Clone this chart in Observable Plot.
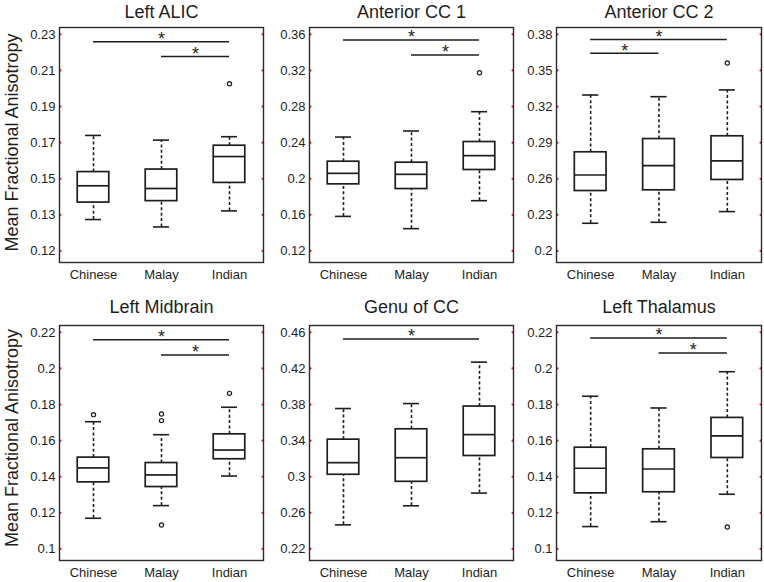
<!DOCTYPE html>
<html>
<head>
<meta charset="utf-8">
<script src="https://cdn.jsdelivr.net/npm/d3@7"></script>
<script src="https://cdn.jsdelivr.net/npm/@observablehq/plot@0.6"></script>
<style>
  html, body { margin: 0; padding: 0; background: #fff; }
  #chart { position: relative; width: 764px; height: 582px; overflow: hidden; background: #fff; }
  #chart svg { position: absolute; overflow: visible; }
</style>
</head>
<body>
<div id="chart"></div>
<script>
// ---------- data ----------
const groups = ["Chinese", "Malay", "Indian"];
const titles = ["Left ALIC", "Anterior CC 1", "Anterior CC 2", "Left Midbrain", "Genu of CC", "Left Thalamus"];
const yAxisTitle = "Mean Fractional Anisotropy";

// tick positions and printed labels per panel
const tickValues = [
  [0.11, 0.13, 0.15, 0.17, 0.19, 0.21, 0.23],
  [0.12, 0.16, 0.20, 0.24, 0.28, 0.32, 0.36],
  [0.20, 0.23, 0.26, 0.29, 0.32, 0.35, 0.38],
  [0.10, 0.12, 0.14, 0.16, 0.18, 0.20, 0.22],
  [0.22, 0.26, 0.30, 0.34, 0.38, 0.42, 0.46],
  [0.10, 0.12, 0.14, 0.16, 0.18, 0.20, 0.22]
];
const tickLabels = [
  ["0.12", "0.13", "0.15", "0.17", "0.19", "0.21", "0.23"],
  ["0.12", "0.16", "0.2", "0.24", "0.28", "0.32", "0.36"],
  ["0.2", "0.23", "0.26", "0.29", "0.32", "0.35", "0.38"],
  ["0.1", "0.12", "0.14", "0.16", "0.18", "0.2", "0.22"],
  ["0.22", "0.26", "0.3", "0.34", "0.38", "0.42", "0.46"],
  ["0.1", "0.12", "0.14", "0.16", "0.18", "0.2", "0.22"]
];

// box statistics per panel: [Chinese, Malay, Indian]
const whiskerLow = [
  [0.1274, 0.1233, 0.1322],
  [0.1583, 0.1447, 0.1757],
  [0.2230, 0.2238, 0.2327],
  [0.1170, 0.1240, 0.1404],
  [0.2467, 0.2678, 0.2819],
  [0.1124, 0.1151, 0.1303]
];
const q1 = [
  [0.1368, 0.1376, 0.1477],
  [0.1938, 0.1886, 0.2097],
  [0.2498, 0.2504, 0.2590],
  [0.1369, 0.1343, 0.1497],
  [0.3022, 0.2944, 0.3230],
  [0.1308, 0.1314, 0.1504]
];
const median = [
  [0.1461, 0.1446, 0.1623],
  [0.2060, 0.2049, 0.2256],
  [0.2631, 0.2709, 0.2748],
  [0.1449, 0.1410, 0.1548],
  [0.3156, 0.3211, 0.3467],
  [0.1447, 0.1443, 0.1626]
];
const q3 = [
  [0.1537, 0.1551, 0.1683],
  [0.2189, 0.2178, 0.2407],
  [0.2820, 0.2930, 0.2953],
  [0.1506, 0.1476, 0.1635],
  [0.3411, 0.3526, 0.3778],
  [0.1561, 0.1552, 0.1726]
];
const whiskerHigh = [
  [0.1740, 0.1714, 0.1733],
  [0.2462, 0.2529, 0.2743],
  [0.3296, 0.3282, 0.3338],
  [0.1705, 0.1633, 0.1785],
  [0.3756, 0.3811, 0.4270],
  [0.1846, 0.1781, 0.1982]
];

// outliers
const outlierPanel = [0, 1, 2, 3, 3, 3, 3, 3, 5];
const outlierGroup = ["Indian", "Indian", "Indian", "Chinese", "Malay", "Malay", "Malay", "Indian", "Indian"];
const outlierValue = [0.2026, 0.3175, 0.3562, 0.1744, 0.1748, 0.1711, 0.1133, 0.1862, 0.1122];

// significance bars
const sigPanel = [0, 0, 1, 1, 2, 2, 3, 3, 4, 5, 5];
const sigFrom = ["Chinese", "Malay", "Chinese", "Malay", "Chinese", "Chinese", "Chinese", "Malay", "Chinese", "Chinese", "Malay"];
const sigTo = ["Indian", "Indian", "Indian", "Indian", "Indian", "Malay", "Indian", "Indian", "Indian", "Indian", "Indian"];
const sigY = [0.2259, 0.2178, 0.3537, 0.3371, 0.3758, 0.3642, 0.2159, 0.2074, 0.4526, 0.2169, 0.2086];

// ---------- layout ----------
const colX0 = [59, 309, 556], colX1 = [263, 513, 761];
const rowY0 = [27, 325], rowY1 = [262, 560];
const titleDy = [-15.5, -18];
const mL = 59, mT = 27, mR = 4, mB = 26;
const font = "'Liberation Sans', Arial, Helvetica, sans-serif";
const ink = "#1e1e1e";

const chart = document.getElementById("chart");
const gi = g => groups.indexOf(g) + 0.5;

for (let p = 0; p < 6; p++) {
  const col = p % 3, row = Math.floor(p / 3);
  const fw = colX1[col] - colX0[col], fh = rowY1[row] - rowY0[row];
  const tv = tickValues[p];
  const step = (tv[tv.length - 1] - tv[0]) / (tv.length - 1);
  const yDomain = [tv[0] - 0.32 * step, tv[tv.length - 1] + 0.19 * step];
  const labelMap = new Map(tv.map((v, i) => [v, tickLabels[p][i]]));

  const boxes = groups.map((g, i) => ({
    x: i + 0.5, lo: whiskerLow[p][i], q1: q1[p][i], med: median[p][i], q3: q3[p][i], hi: whiskerHigh[p][i]
  }));
  const outs = outlierValue.map((v, i) => ({p: outlierPanel[i], x: gi(outlierGroup[i]), y: v})).filter(d => d.p === p);
  const sigs = sigY.map((v, i) => ({p: sigPanel[i], x1: gi(sigFrom[i]), x2: gi(sigTo[i]), y: v})).filter(d => d.p === p);

  const bw = 0.232, cw = 0.118;
  const marks = [
    // whiskers (dotted)
    Plot.ruleX(boxes, {x: "x", y1: "q3", y2: "hi", stroke: ink, strokeWidth: 1.6, strokeDasharray: "3,2.4"}),
    Plot.ruleX(boxes, {x: "x", y1: "lo", y2: "q1", stroke: ink, strokeWidth: 1.6, strokeDasharray: "3,2.4"}),
    // caps
    Plot.ruleY(boxes, {y: "hi", x1: d => d.x - cw, x2: d => d.x + cw, stroke: ink, strokeWidth: 1.6}),
    Plot.ruleY(boxes, {y: "lo", x1: d => d.x - cw, x2: d => d.x + cw, stroke: ink, strokeWidth: 1.6}),
    // boxes
    Plot.rect(boxes, {x1: d => d.x - bw, x2: d => d.x + bw, y1: "q1", y2: "q3", fill: "white", stroke: ink, strokeWidth: 1.7}),
    Plot.ruleY(boxes, {y: "med", x1: d => d.x - bw, x2: d => d.x + bw, stroke: ink, strokeWidth: 1.7}),
    // outliers
    Plot.dot(outs, {x: "x", y: "y", r: 2.1, stroke: ink, strokeWidth: 1.2, fill: "white"}),
    // significance bars
    Plot.ruleY(sigs, {y: "y", x1: "x1", x2: "x2", stroke: ink, strokeWidth: 1.5}),
    Plot.text(sigs, {x: d => (d.x1 + d.x2) / 2, y: "y", text: () => "*", fontSize: 18, fill: ink, lineAnchor: "middle", dy: -2.5}),
    // red tick marks on both frame edges
    Plot.dot(tv, {x: 0, y: d => d, r: 1.1, fill: "#e0202a", stroke: null, dx: 1}),
    Plot.dot(tv, {x: 3, y: d => d, r: 1.1, fill: "#e0202a", stroke: null, dx: -1}),
    Plot.frame({stroke: "#2a2a2a", strokeWidth: 1.4}),
    // panel title
    Plot.text([titles[p]], {frameAnchor: "top", text: d => d, fontSize: 18, fill: ink, textAnchor: "middle", lineAnchor: "middle", dy: titleDy[row]})
  ];
  if (col === 0) {
    marks.push(Plot.text([yAxisTitle], {frameAnchor: "left", text: d => d, rotate: -90, fontSize: 18, fill: ink, textAnchor: "middle", lineAnchor: "middle", dx: -47.5, dy: row === 0 ? -2.5 : -5}));
  }

  const svg = Plot.plot({
    width: mL + fw + mR,
    height: mT + fh + mB,
    marginLeft: mL, marginTop: mT, marginRight: mR, marginBottom: mB,
    style: {fontFamily: font, fontSize: "13px", color: ink, background: "transparent", overflow: "visible"},
    x: {domain: [0, 3], ticks: groups.map((g, i) => i + 0.5), tickFormat: d => groups[Math.round(d - 0.5)], tickSize: 0, tickPadding: 7, label: null},
    y: {domain: yDomain, ticks: tv, tickFormat: d => labelMap.get(d), tickSize: 0, tickPadding: 4, label: null},
    marks
  });
  svg.style.left = (colX0[col] - mL) + "px";
  svg.style.top = (rowY0[row] - mT) + "px";
  chart.appendChild(svg);
}
</script>
</body>
</html>
